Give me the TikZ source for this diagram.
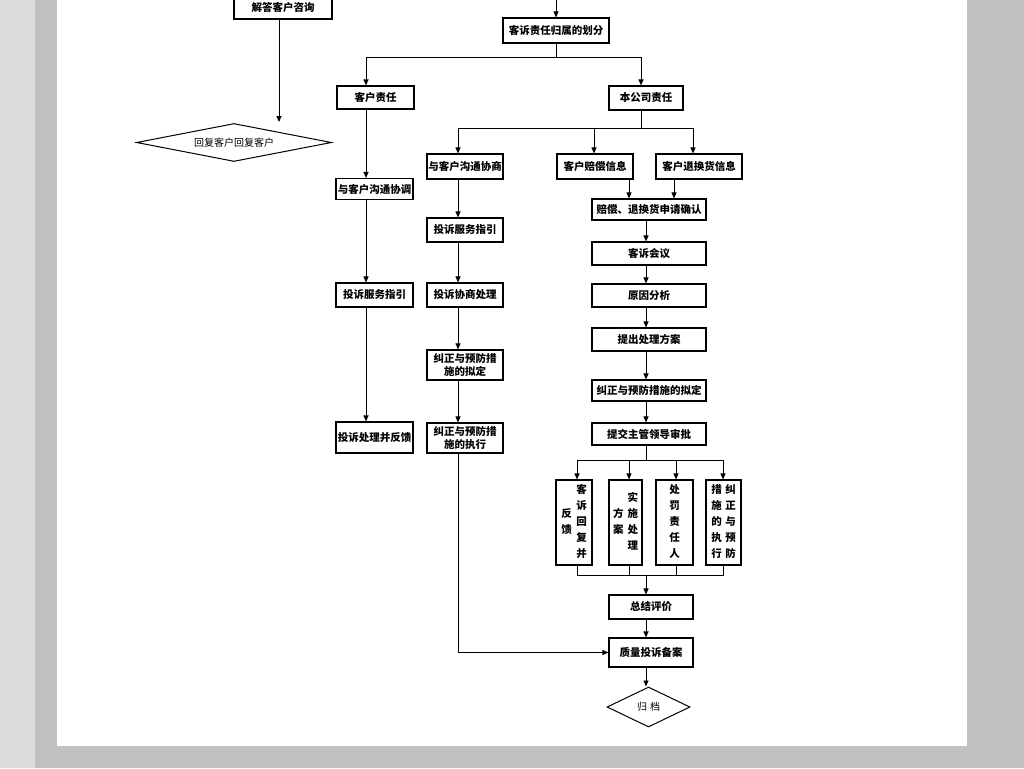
\documentclass[tikz,border=0pt]{standalone}
\usepackage{fontspec}
\usetikzlibrary{arrows.meta,shapes.geometric}
\newfontfamily\cjk{Noto Sans CJK SC}
\newcommand\mycol[1]{\begin{tabular}[c]{@{}c@{}}#1\end{tabular}}
\definecolor{outergray}{HTML}{C0C0C0}
\definecolor{stripgray}{HTML}{DCDCDC}
\tikzset{
  box/.style={draw, line width=1.1pt, fill=white, inner sep=0pt, align=center,
    font=\cjk\bfseries\fontsize{10.5}{12.5}\selectfont},
  vbox/.style={box, font=\cjk\bfseries\fontsize{10.5}{16}\selectfont},
  sz/.style 2 args={minimum width=#1pt, minimum height=#2pt},
  dia/.style={draw, line width=1pt, fill=white, diamond, inner sep=0pt,
    font=\cjk\fontsize{10}{12}\selectfont},
  arr/.style={draw, line width=0.9pt, -{Triangle[length=6pt,width=5pt]}},
  ln/.style={draw, line width=0.9pt}
}
\begin{document}
\begin{tikzpicture}[x=1pt,y=-1pt]
\useasboundingbox (0,0) rectangle (1024,768);
\fill[outergray] (0,0) rectangle (1024,768);
\fill[stripgray] (0,0) rectangle (35,768);
\fill[white] (57,0) rectangle (967,746);

% left branch top
\node[box, sz={98}{24}] (jd) at (283,7) {解答客户咨询};
\node[dia, aspect=5.13, minimum width=195pt, minimum height=38pt] (hf) at (234,142.5) {回复客户回复客户};

% top
\node[box, sz={106}{25}] (kz) at (556,30.5) {客诉责任归属的划分};
\node[box, sz={77}{23}] (khzr) at (375.5,97.5) {客户责任};
\node[box, sz={74}{24}] (bgs) at (646,98) {本公司责任};

% left column
\node[box, sz={77}{21}] (yk1) at (374.5,189) {与客户沟通协调};
\node[box, sz={77}{24}] (zy1) at (374.5,295) {投诉服务指引};
\node[box, sz={77}{31}] (fk) at (374.5,437.5) {投诉处理并反馈};

% middle column
\node[box, sz={76}{25}] (ykx) at (465,166.5) {与客户沟通协商};
\node[box, sz={76}{24}] (zy2) at (465,230) {投诉服务指引};
\node[box, sz={76}{24}] (xs) at (465,295) {投诉协商处理};
\node[box, sz={76}{30}] (nd2) at (465,365) {纠正与预防措\\施的拟定};
\node[box, sz={76}{30}] (zx2) at (465,438) {纠正与预防措\\施的执行};

% right column
\node[box, sz={76}{25}] (pcx) at (595,166.5) {客户赔偿信息};
\node[box, sz={86}{25}] (thx) at (699,166.5) {客户退换货信息};
\node[box, sz={114}{21}] (sq) at (649,209.5) {赔偿、退换货申请确认};
\node[box, sz={114}{23}] (hy) at (649,253.5) {客诉会议};
\node[box, sz={114}{23}] (yy) at (649,295.5) {原因分析};
\node[box, sz={114}{23}] (fa) at (649,339.5) {提出处理方案};
\node[box, sz={114}{21}] (nd) at (649,390.5) {纠正与预防措施的拟定};
\node[box, sz={114}{22}] (sp) at (649,434) {提交主管领导审批};

\node[vbox, sz={36}{85}] (v1) at (574,522.5) {\mycol{反\\馈}\hspace{4.5pt}\mycol{客\\诉\\回\\复\\并}};
\node[vbox, sz={33}{85}] (v2) at (625.5,522.5) {\mycol{方\\案}\hspace{4pt}\mycol{实\\施\\处\\理}};
\node[vbox, sz={37}{85}] (v3) at (674.5,522.5) {\mycol{处\\罚\\责\\任\\人}};
\node[vbox, sz={35}{85}] (v4) at (723.5,522.5) {\mycol{措\\施\\的\\执\\行}\hspace{3.5pt}\mycol{纠\\正\\与\\预\\防}};

\node[box, sz={84}{24}] (zj) at (651,607) {总结评价};
\node[box, sz={84}{29}] (ba) at (651,652.5) {质量投诉备案};
\node[dia, aspect=2.08, minimum width=83pt, minimum height=40pt] (gd) at (648.5,707) {归\hspace{3pt}档};

% column coordinates
\coordinate (c1) at (366,0);
\coordinate (c2) at (458,0);
\coordinate (c3) at (641,0);
\coordinate (cr) at (646,0);
\coordinate (xa) at (594,0);
\coordinate (xb) at (693,0);
\coordinate (xc) at (629,0);
\coordinate (xd) at (674,0);
\coordinate (xv1) at (577,0);
\coordinate (xv2) at (629,0);
\coordinate (xv3) at (676,0);
\coordinate (xv4) at (723,0);
\coordinate (xj) at (279,0);
\coordinate (hfin) at (279,122);
\coordinate (top1) at (556,-5);
\coordinate (j1) at (556,57);
\coordinate (j2) at (641,128);
\coordinate (j3) at (646,460);
\coordinate (j4) at (646,575);

% connectors
\draw[arr] (jd.south -| xj) -- (hfin);
\draw[arr] (top1) -- (kz.north);
\draw[ln] (kz.south) -- (j1);
\draw[arr] (j1) -| (khzr.north -| c1);
\draw[arr] (j1) -| (bgs.north -| c3);

\draw[arr] (khzr.south -| c1) -- (yk1.north -| c1);
\draw[arr] (yk1.south -| c1) -- (zy1.north -| c1);
\draw[arr] (zy1.south -| c1) -- (fk.north -| c1);

\draw[ln] (bgs.south -| j2) -- (j2);
\draw[arr] (j2) -| (ykx.north -| c2);
\draw[arr] (j2) -| (pcx.north -| xa);
\draw[arr] (j2) -| (thx.north -| xb);

\draw[arr] (ykx.south -| c2) -- (zy2.north -| c2);
\draw[arr] (zy2.south -| c2) -- (xs.north -| c2);
\draw[arr] (xs.south -| c2) -- (nd2.north -| c2);
\draw[arr] (nd2.south -| c2) -- (zx2.north -| c2);
\draw[arr] (zx2.south -| c2) |- (ba.west);

\draw[arr] (pcx.south -| xc) -- (sq.north -| xc);
\draw[arr] (thx.south -| xd) -- (sq.north -| xd);
\draw[arr] (sq.south -| cr) -- (hy.north -| cr);
\draw[arr] (hy.south -| cr) -- (yy.north -| cr);
\draw[arr] (yy.south -| cr) -- (fa.north -| cr);
\draw[arr] (fa.south -| cr) -- (nd.north -| cr);
\draw[arr] (nd.south -| cr) -- (sp.north -| cr);

\draw[ln] (sp.south -| j3) -- (j3);
\draw[arr] (j3) -| (v1.north -| xv1);
\draw[arr] (j3) -| (v2.north -| xv2);
\draw[arr] (j3) -| (v3.north -| xv3);
\draw[arr] (j3) -| (v4.north -| xv4);

\draw[ln] (v1.south -| xv1) -- (xv1 |- j4) -- (xv4 |- j4) -- (v4.south -| xv4);
\draw[ln] (v2.south -| xv2) -- (xv2 |- j4);
\draw[ln] (v3.south -| xv3) -- (xv3 |- j4);
\draw[arr] (j4) -- (zj.north -| j4);
\draw[arr] (zj.south -| cr) -- (ba.north -| cr);
\draw[arr] (ba.south -| cr) -- (gd.north -| cr);
\end{tikzpicture}
\end{document}
